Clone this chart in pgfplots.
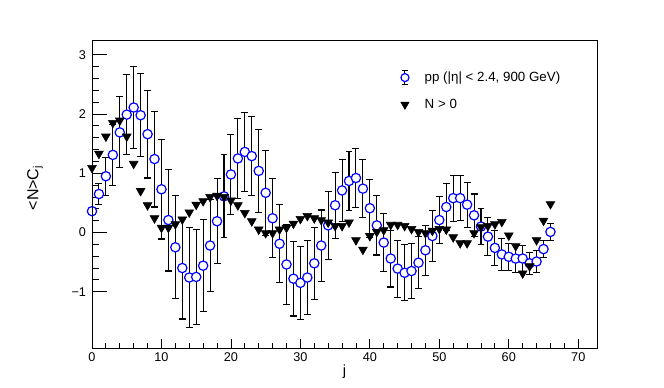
\documentclass[border=0pt]{standalone}
\usepackage{pgfplots}
\pgfplotsset{compat=1.18}
\usepackage{pgfplotstable}
\usepackage{fontspec}
\setmainfont{Liberation Sans}

% pp, |eta|<2.4, 900 GeV : j, <N>C_j, error
\pgfplotstableread{
j y err
0 0.36 0.06
1 0.65 0.17
2 0.95 0.32
3 1.31 0.51
4 1.69 0.60
5 1.99 0.67
6 2.11 0.69
7 1.98 0.70
8 1.66 0.74
9 1.24 0.81
10 0.73 0.84
11 0.21 0.86
12 -0.25 0.87
13 -0.60 0.86
14 -0.76 0.84
15 -0.75 0.80
16 -0.56 0.78
17 -0.22 0.78
18 0.19 0.72
19 0.61 0.70
20 0.98 0.67
21 1.25 0.67
22 1.36 0.67
23 1.29 0.67
24 1.04 0.70
25 0.67 0.72
26 0.24 0.67
27 -0.19 0.66
28 -0.54 0.68
29 -0.78 0.63
30 -0.85 0.62
31 -0.76 0.62
32 -0.52 0.61
33 -0.22 0.60
34 0.12 0.58
35 0.46 0.56
36 0.71 0.53
37 0.87 0.50
38 0.92 0.50
39 0.74 0.49
40 0.41 0.49
41 0.12 0.50
42 -0.17 0.49
43 -0.44 0.48
44 -0.61 0.48
45 -0.68 0.47
46 -0.65 0.46
47 -0.51 0.44
48 -0.30 0.42
49 -0.06 0.43
50 0.21 0.40
51 0.43 0.40
52 0.58 0.39
53 0.58 0.38
54 0.47 0.38
55 0.29 0.36
56 0.10 0.30
57 -0.07 0.32
58 -0.26 0.29
59 -0.37 0.27
60 -0.41 0.23
61 -0.44 0.23
62 -0.44 0.22
63 -0.52 0.19
64 -0.49 0.18
65 -0.28 0.15
66 0.01 0.14
}\ppdata

% N > 0
\pgfplotstableread{
j y
0 1.09
1 1.33
2 1.62
3 1.85
4 1.89
5 1.62
6 1.16
7 0.70
8 0.46
9 0.24
10 0.08
11 0.08
12 0.14
13 0.22
14 0.34
15 0.47
16 0.53
17 0.60
18 0.62
19 0.60
20 0.54
21 0.46
22 0.33
23 0.19
24 0.05
25 -0.01
26 -0.01
27 0.05
28 0.08
29 0.15
30 0.23
31 0.28
32 0.24
33 0.21
34 0.17
35 0.11
36 0.11
37 0.17
38 -0.13
39 -0.29
40 -0.06
41 0.01
42 0.04
43 0.13
44 0.13
45 0.11
46 0.06
47 0.01
48 -0.01
49 0.03
50 0.06
51 0.05
52 -0.08
53 -0.18
54 -0.18
55 -0.01
56 0.09
57 0.11
58 0.14
59 0.18
60 -0.05
61 -0.23
62 -0.69
63 -0.57
64 -0.13
65 0.20
66 0.48
}\nzero

\begin{document}
\begin{tikzpicture}
\pgfplotsset{
  rootframe/.style={
    scale only axis, width=378.75pt, height=231pt,
    xmin=0, xmax=72.7, ymin=-1.95, ymax=3.25,
    axis line style={line width=0.7pt},
    tick align=inside,
    every tick/.style={black, line width=0.6pt},
    tick label style={font=\fontsize{9.5}{11}\selectfont},
  },
}
% y ticks, data and legend
\begin{axis}[rootframe,
  xtick=\empty,
  ytick={-1,0,1,2,3}, yticklabels={−1,0,1,2,3},
  minor y tick num=4, ytick pos=left,
  major tick length=11pt, minor tick length=5.5pt,
  yticklabel style={xshift=-1pt},
  ylabel={<N>C\textsubscript{j}},
  ylabel style={at={(rel axis cs:0,0.52)}, anchor=center, yshift=42.75pt,
    font=\fontsize{12}{14}\selectfont},
  clip=false,
  legend style={at={(rel axis cs:0.60,0.915)}, anchor=north west,
    draw=none, fill=none, font=\fontsize{10}{12}\selectfont,
    row sep=8pt},
  legend cell align=left,
]
\addplot[only marks, mark=*, mark size=3.5pt,
  mark options={draw=blue, fill=white, line width=0.9pt},
  error bars/.cd, y dir=both, y explicit,
  error bar style={black, line width=0.8pt},
  error mark options={rotate=90, black, mark size=2.6pt, line width=0.8pt},
  /pgfplots/legend image code/.code={
    \path[draw=none] (0,0) rectangle (0.6cm,0);
    \draw[black, line width=0.8pt] (0.15cm,-5.5pt) -- (0.15cm,5.5pt)
      (0.15cm-2.2pt,-5.5pt) -- (0.15cm+2.2pt,-5.5pt)
      (0.15cm-2.2pt,5.5pt) -- (0.15cm+2.2pt,5.5pt);
    \draw[blue, fill=white, line width=0.9pt] (0.15cm,0) circle (3pt);
  },
  ]
  table[x=j, y=y, y error=err] {\ppdata};
\addlegendentry{pp (|η| < 2.4, 900 GeV)}
\addplot[only marks, mark=triangle*, mark size=3.8pt,
  mark options={rotate=180, fill=black, draw=black},
  legend image code/.code={
    \path[draw=none] (0,0) rectangle (0.6cm,0);
    \fill[black] (0.15cm,-3.2pt) -- (0.15cm-3.1pt,2.2pt) -- (0.15cm+3.1pt,2.2pt) -- cycle;
  }]
  table[x=j, y=y] {\nzero};
\addlegendentry{N > 0}
\coordinate (ll) at (rel axis cs:0,0);
\coordinate (ur) at (rel axis cs:1,1);
\end{axis}
% x ticks and label
\begin{axis}[rootframe,
  ytick=\empty,
  xtick={0,10,...,70}, xticklabels={0,10,20,30,40,50,60,70},
  minor x tick num=4, xtick pos=bottom,
  major tick length=6.75pt, minor tick length=3.4pt,
  xlabel={j},
  xlabel style={at={(rel axis cs:0.5,0)}, anchor=center, yshift=-18pt,
    font=\fontsize{11}{13}\selectfont},
]
\end{axis}
\path ([shift={(-69pt,-30pt)}]ll) rectangle ([shift={(50.25pt,30pt)}]ur);
\end{tikzpicture}
\end{document}
